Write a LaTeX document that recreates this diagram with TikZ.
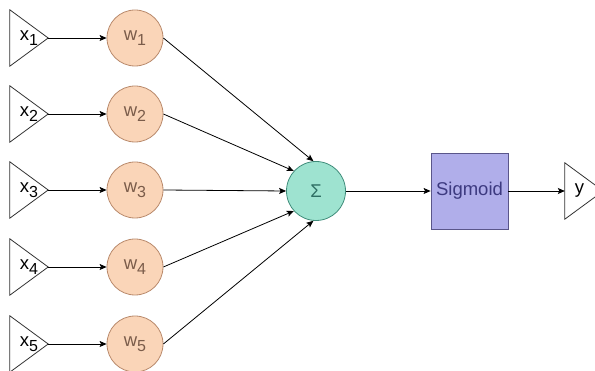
\documentclass[tikz,border=0pt]{standalone}
\usepackage{fontspec}
\setmainfont{Liberation Sans}
\usetikzlibrary{arrows.meta}

\definecolor{weightfill}{HTML}{FAD5B8}
\definecolor{weightline}{HTML}{B98A6C}
\definecolor{weighttext}{HTML}{7A5C4A}
\definecolor{sumfill}{HTML}{9EE3D0}
\definecolor{sumline}{HTML}{3F8C7A}
\definecolor{sumtext}{HTML}{2F6F64}
\definecolor{sigfill}{HTML}{B0AEEA}
\definecolor{sigline}{HTML}{5A568A}
\definecolor{sigtext}{HTML}{3D3A80}

\newcommand{\lab}[2]{#1\raisebox{-0.3em}{\fontsize{16}{16}\selectfont #2}}

\tikzset{
  port/.style = {minimum width = 38pt, minimum height = 56pt, inner sep = 0pt},
  weight/.style = {circle, minimum size = 56pt, inner sep = 0pt, draw = weightline,
    fill = weightfill, text = weighttext, line width = 0.8pt},
  link/.style = {-{Stealth[length = 7pt, width = 6pt, inset = 1.5pt]}, line width = 0.8pt}
}

\begin{document}
\begin{tikzpicture}[x = 1pt, y = -1pt, font = \fontsize{18.5}{18.5}\selectfont]
  \clip (0, 0) rectangle (595, 371);

  \node[port] (input 1) at (29, 38) {\lab{x}{1}};
  \node[port] (input 2) at (29, 114) {\lab{x}{2}};
  \node[port] (input 3) at (29, 190) {\lab{x}{3}};
  \node[port] (input 4) at (29, 267) {\lab{x}{4}};
  \node[port] (input 5) at (29, 344) {\lab{x}{5}};

  \node[weight] (weight 1) at (135, 38) {\lab{w}{1}};
  \node[weight] (weight 2) at (135, 114) {\lab{w}{2}};
  \node[weight] (weight 3) at (135, 190) {\lab{w}{3}};
  \node[weight] (weight 4) at (135, 267) {\lab{w}{4}};
  \node[weight] (weight 5) at (135, 344) {\lab{w}{5}};

  \node[circle, minimum size = 59pt, inner sep = 0pt, draw = sumline, fill = sumfill,
    text = sumtext, line width = 0.8pt] (sum) at (316, 191) {Σ};

  \node[minimum width = 77pt, minimum height = 76pt, inner sep = 0pt, draw = sigline,
    fill = sigfill, text = sigtext, line width = 0.8pt] (sigmoid) at (469.5, 191) {Sigmoid};
  \node[port] (output) at (584, 191) {\hspace*{-9pt}y};

  % triangles round the ports
  \foreach \p in {input 1, input 2, input 3, input 4, input 5, output}
    \draw[black!80, line width = 0.8pt] (\p.north west) -- (\p.east) -- (\p.south west) -- cycle;

  \draw[link] (input 1.east) -- (weight 1);
  \draw[link] (input 2.east) -- (weight 2);
  \draw[link] (input 3.east) -- (weight 3);
  \draw[link] (input 4.east) -- (weight 4);
  \draw[link] (input 5.east) -- (weight 5);

  \draw[link] (weight 1.east) -- (sum.95);
  \draw[link] (weight 2.east) -- (sum.138);
  \draw[link] (weight 3.east) -- (sum.west);
  \draw[link] (weight 4.east) -- (sum.222);
  \draw[link] (weight 5.east) -- (sum.265);

  \draw[link] (sum) -- (sigmoid);
  \draw[link] (sigmoid) -- (output.west);
\end{tikzpicture}
\end{document}
